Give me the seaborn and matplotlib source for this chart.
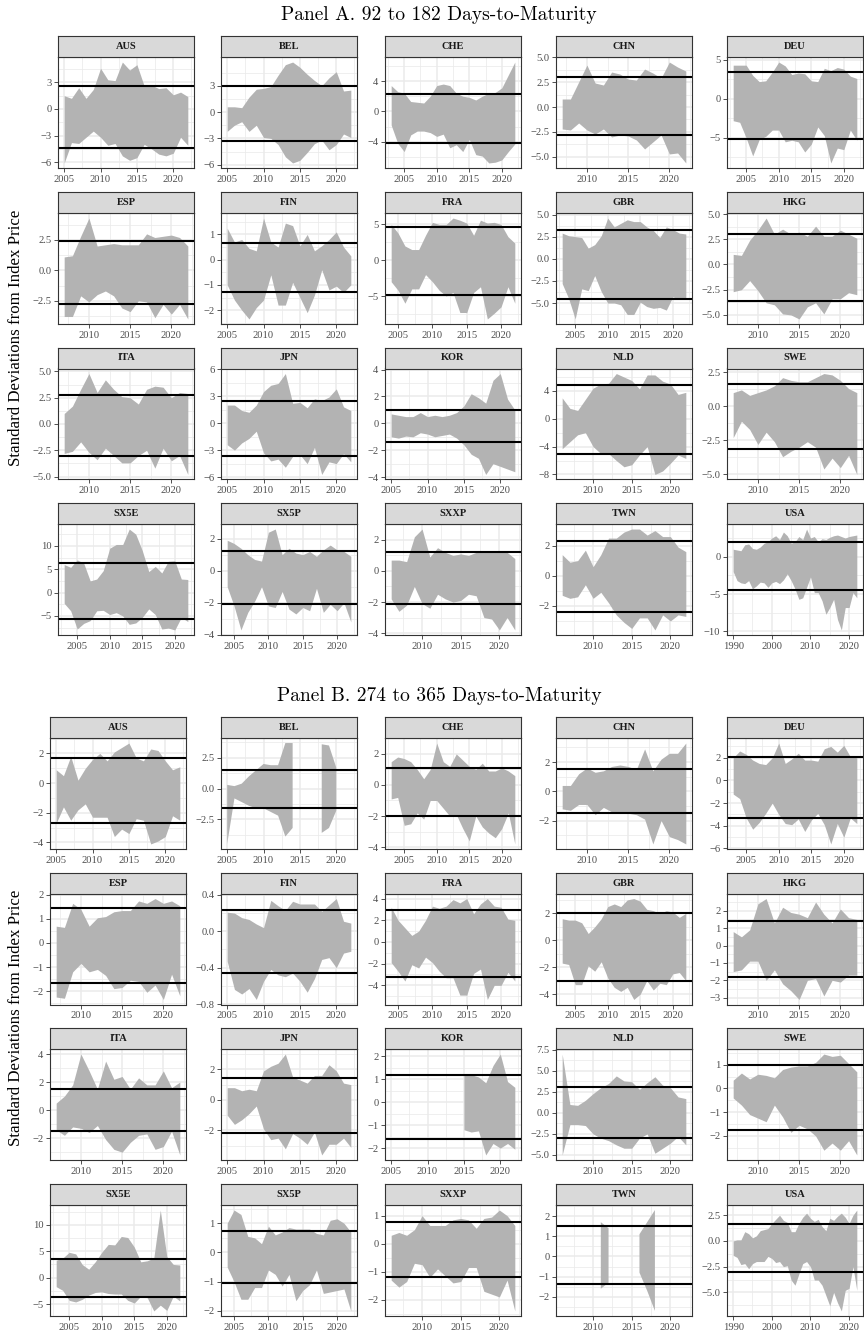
import numpy as np
import matplotlib
matplotlib.use("Agg")
import matplotlib.pyplot as plt
import seaborn as sns
from matplotlib.ticker import FixedLocator, FixedFormatter

nan = np.nan
COUNTRIES = ["AUS", "BEL", "CHE", "CHN", "DEU", "ESP", "FIN", "FRA", "GBR", "HKG",
             "ITA", "JPN", "KOR", "NLD", "SWE", "SX5E", "SX5P", "SXXP", "TWN", "USA"]
END_YEAR = 2022

# ---------------- Panel A: 92 to 182 days ----------------
A_START = {"AUS": 2005, "BEL": 2005, "CHE": 2003, "CHN": 2007, "DEU": 2003,
           "ESP": 2007, "FIN": 2005, "FRA": 2004, "GBR": 2003, "HKG": 2007,
           "ITA": 2007, "JPN": 2005, "KOR": 2005, "NLD": 2006, "SWE": 2007,
           "SX5E": 2003, "SX5P": 2004, "SXXP": 2006, "TWN": 2006, "USA": 1990}
A_HI = {
    "AUS": [1.5, 1.2, 2.4, 1.2, 2.2, 4.6, 3.3, 3.2, 5.3, 4.4, 5.0, 2.6, 2.7, 2.3, 2.4, 1.6, 1.9, 1.4],
    "BEL": [0.6, 0.6, 0.5, 1.7, 2.6, 2.7, 2.9, 4.2, 5.4, 5.7, 5.1, 4.3, 3.6, 3.0, 3.9, 4.6, 2.4, 2.5],
    "CHE": [3.4, 2.6, 2.4, 1.3, 1.2, 1.1, 2.0, 3.4, 3.6, 3.4, 2.4, 2.0, 1.85, 1.5, 2.0, 2.4, 2.5, 3.1, 4.8, 6.5],
    "CHN": [0.8, 0.8, 2.5, 4.2, 2.4, 2.2, 3.5, 3.3, 2.8, 2.7, 3.8, 3.4, 2.9, 4.5, 4.0, 3.6],
    "DEU": [4.3, 4.3, 4.3, 3.0, 2.2, 2.3, 3.4, 4.7, 4.2, 3.1, 3.3, 3.2, 2.3, 2.2, 3.9, 3.6, 4.0, 3.8, 2.9, 2.6],
    "ESP": [1.1, 1.2, 2.8, 4.3, 2.0, 2.1, 2.2, 2.1, 2.1, 2.1, 3.0, 2.7, 2.8, 2.9, 2.7, 2.0],
    "FIN": [1.25, 0.7, 0.8, 0.45, 0.35, 1.65, 0.7, 0.5, 1.45, 1.35, 0.55, 1.0, 0.35, 0.55, 0.8, 1.1, 0.5, 0.15],
    "FRA": [5.0, 3.8, 2.0, 1.5, 1.5, 3.5, 5.3, 5.0, 5.0, 5.9, 5.6, 5.2, 3.5, 5.6, 5.2, 5.3, 5.0, 3.3, 2.4],
    "GBR": [2.9, 2.6, 2.5, 2.4, 1.2, 1.6, 2.6, 4.6, 3.6, 4.0, 4.4, 4.2, 4.2, 3.6, 3.2, 2.4, 3.6, 3.3, 2.9, 2.8],
    "HKG": [1.0, 0.9, 2.4, 3.4, 4.6, 3.0, 3.5, 3.0, 3.2, 2.8, 3.8, 2.8, 2.8, 3.4, 3.0, 2.6],
    "ITA": [1.0, 1.7, 3.3, 4.8, 3.0, 4.2, 3.3, 2.6, 2.5, 1.9, 3.3, 3.6, 3.5, 2.5, 3.0, 2.9],
    "JPN": [2.0, 2.0, 1.4, 1.2, 2.0, 3.5, 4.2, 4.4, 5.5, 2.2, 2.3, 1.7, 2.7, 2.5, 2.9, 3.8, 1.8, 1.4],
    "KOR": [0.7, 0.6, 0.5, 0.5, 0.8, 0.5, 0.6, 0.5, 0.6, 0.8, 1.3, 2.2, 1.9, 1.5, 3.2, 3.7, 1.8, 1.0],
    "NLD": [3.0, 1.5, 1.2, 2.8, 4.4, 5.0, 5.1, 6.5, 6.0, 5.5, 4.3, 6.3, 6.3, 5.4, 5.0, 3.5, 3.8],
    "SWE": [1.0, 1.2, 0.8, 1.0, 1.2, 1.5, 2.1, 1.9, 1.8, 1.8, 2.1, 2.4, 2.3, 1.9, 1.3, 1.0],
    "SX5E": [6.0, 5.4, 7.0, 6.3, 2.5, 2.9, 4.7, 9.5, 10.3, 10.3, 13.6, 12.5, 9.0, 4.5, 5.6, 4.2, 6.7, 6.8, 2.9, 2.8],
    "SX5P": [1.9, 1.7, 1.4, 1.0, 0.7, 0.6, 2.4, 2.6, 1.0, 1.4, 1.1, 1.0, 1.2, 0.9, 1.3, 1.6, 1.3, 1.2, 0.9],
    "SXXP": [0.7, 0.7, 0.6, 2.2, 2.7, 0.9, 1.5, 1.2, 1.0, 1.1, 1.0, 1.2, 1.3, 1.3, 1.2, 1.2, 0.8],
    "TWN": [1.4, 0.9, 1.0, 1.7, 0.6, 1.4, 2.5, 2.5, 2.9, 3.1, 3.1, 2.7, 3.0, 2.6, 2.6, 1.9, 1.6],
    "USA": [1.0, 0.9, 0.8, 1.6, 1.7, 1.1, 1.0, 1.3, 1.8, 2.0, 2.5, 2.8, 2.3, 3.3, 2.8, 1.8, 2.0, 2.7, 2.3, 3.7,
            2.5, 2.7, 2.0, 2.4, 2.3, 2.6, 2.8, 2.9, 2.7, 2.5, 2.7, 2.8, 2.9],
}
A_LO = {
    "AUS": [-6.1, -3.8, -3.9, -3.2, -2.5, -3.2, -4.1, -3.9, -5.3, -5.8, -5.5, -4.0, -4.5, -5.1, -5.3, -5.0, -3.2, -4.1],
    "BEL": [-2.2, -1.5, -1.1, -2.2, -1.5, -2.9, -3.0, -3.7, -5.1, -5.8, -5.5, -4.6, -3.6, -3.2, -4.3, -3.7, -2.5, -2.9],
    "CHE": [-1.8, -4.2, -5.3, -3.1, -2.6, -2.6, -2.8, -3.3, -3.0, -4.8, -4.4, -5.3, -3.7, -5.7, -5.9, -6.8, -6.7, -6.4, -5.3, -4.3],
    "CHN": [-2.2, -2.3, -1.6, -2.3, -2.7, -2.2, -3.0, -2.8, -2.9, -3.3, -4.2, -3.5, -2.8, -4.7, -4.6, -5.6],
    "DEU": [-2.8, -3.0, -5.0, -7.3, -5.2, -4.8, -4.0, -4.0, -5.5, -5.3, -5.5, -6.8, -5.8, -3.6, -4.7, -8.2, -6.3, -6.5, -4.0, -5.3],
    "ESP": [-3.8, -3.8, -2.1, -2.6, -2.0, -1.7, -2.1, -3.1, -3.4, -2.5, -2.6, -3.9, -2.8, -3.6, -2.8, -4.0],
    "FIN": [-1.0, -1.6, -2.0, -2.35, -1.9, -1.6, -0.6, -1.8, -1.8, -0.9, -1.5, -2.1, -1.4, -0.4, -1.2, -1.05, -1.3, -1.0],
    "FRA": [-3.0, -4.2, -6.0, -4.0, -4.0, -2.0, -3.0, -4.2, -5.0, -4.5, -7.3, -7.3, -4.5, -3.7, -8.2, -7.4, -6.5, -3.7, -6.0],
    "GBR": [-2.8, -4.5, -6.8, -3.4, -3.6, -1.9, -3.7, -5.0, -5.0, -5.2, -6.3, -6.3, -4.9, -5.4, -5.6, -5.5, -5.8, -4.3, -4.6, -4.6],
    "HKG": [-2.7, -2.5, -1.6, -2.6, -3.8, -4.0, -4.9, -5.0, -5.4, -4.2, -3.8, -4.9, -3.4, -3.4, -2.8, -3.0],
    "ITA": [-2.8, -2.6, -1.7, -2.7, -3.4, -2.3, -3.0, -3.7, -3.7, -3.0, -2.5, -4.2, -2.3, -3.5, -3.0, -4.8],
    "JPN": [-2.4, -3.0, -2.2, -1.7, -0.9, -3.3, -4.2, -4.0, -4.9, -3.7, -3.5, -4.5, -2.7, -5.7, -4.3, -4.5, -3.4, -4.3],
    "KOR": [-1.0, -1.1, -0.95, -1.0, -0.7, -0.8, -1.0, -0.9, -0.8, -1.1, -1.6, -2.3, -2.6, -3.8, -3.0, -3.2, -3.4, -3.6],
    "NLD": [-4.3, -3.3, -2.3, -2.0, -4.0, -5.0, -5.0, -6.0, -6.9, -6.6, -5.2, -4.0, -8.0, -7.5, -6.4, -5.2, -5.7],
    "SWE": [-2.3, -1.1, -1.7, -2.8, -1.9, -2.6, -3.7, -3.3, -3.0, -2.6, -3.0, -4.6, -3.8, -4.5, -3.6, -5.0],
    "SX5E": [-2.3, -3.9, -7.8, -6.6, -6.0, -3.9, -3.8, -4.7, -4.3, -5.0, -6.8, -6.5, -5.3, -3.5, -4.7, -7.8, -7.6, -8.0, -5.3, -6.2],
    "SX5P": [-1.0, -2.2, -3.7, -2.6, -1.9, -1.0, -2.2, -2.3, -1.3, -2.4, -2.7, -2.3, -2.5, -1.1, -2.6, -2.1, -2.5, -2.0, -3.2],
    "SXXP": [-1.8, -2.6, -2.2, -1.0, -2.1, -2.4, -1.5, -1.8, -2.0, -1.9, -1.5, -1.6, -3.0, -3.1, -3.8, -3.0, -3.8],
    "TWN": [-1.3, -1.5, -1.4, -0.6, -1.5, -1.1, -1.8, -2.6, -3.1, -3.5, -2.8, -2.8, -3.6, -2.6, -3.0, -2.6, -2.7],
    "USA": [-2.0, -3.2, -3.5, -3.6, -3.2, -4.3, -3.9, -3.4, -3.5, -4.1, -3.5, -3.3, -3.6, -3.1, -2.3, -3.2, -4.3, -5.7,
            -5.5, -4.1, -2.7, -4.8, -4.8, -5.9, -7.7, -6.8, -5.7, -8.4, -9.8, -6.8, -6.8, -4.8, -5.5],
}
A_LINES = {"AUS": [2.6, -4.4], "BEL": [3.0, -3.3], "CHE": [2.3, -4.2], "CHN": [3.0, -2.8], "DEU": [3.4, -5.2],
           "ESP": [2.4, -2.8], "FIN": [0.65, -1.3], "FRA": [4.6, -4.9], "GBR": [3.2, -4.6], "HKG": [3.0, -3.6],
           "ITA": [2.8, -3.0], "JPN": [2.4, -3.7], "KOR": [1.0, -1.4], "NLD": [4.9, -5.1], "SWE": [1.6, -3.1],
           "SX5E": [6.3, -5.7], "SX5P": [1.2, -2.1], "SXXP": [1.2, -2.1], "TWN": [2.3, -2.4], "USA": [2.0, -4.4]}
A_YTICKS = {"AUS": [-6, -3, 0, 3], "BEL": [-6, -3, 0, 3], "CHE": [-4, 0, 4], "CHN": [-5.0, -2.5, 0.0, 2.5, 5.0],
            "DEU": [-5, 0, 5], "ESP": [-2.5, 0.0, 2.5], "FIN": [-2, -1, 0, 1], "FRA": [-5, 0, 5],
            "GBR": [-5.0, -2.5, 0.0, 2.5, 5.0], "HKG": [-5.0, -2.5, 0.0, 2.5, 5.0], "ITA": [-5.0, -2.5, 0.0, 2.5, 5.0],
            "JPN": [-6, -3, 0, 3, 6], "KOR": [-4, -2, 0, 2, 4], "NLD": [-8, -4, 0, 4], "SWE": [-5.0, -2.5, 0.0, 2.5],
            "SX5E": [-5, 0, 5, 10], "SX5P": [-4, -2, 0, 2], "SXXP": [-4, -2, 0, 2], "TWN": [-4, -2, 0, 2],
            "USA": [-10, -5, 0]}

# ---------------- Panel B: 274 to 365 days ----------------
B_START = {"AUS": 2005, "BEL": 2005, "CHE": 2003, "CHN": 2007, "DEU": 2003,
           "ESP": 2007, "FIN": 2005, "FRA": 2004, "GBR": 2003, "HKG": 2007,
           "ITA": 2007, "JPN": 2005, "KOR": 2005, "NLD": 2006, "SWE": 2007,
           "SX5E": 2003, "SX5P": 2004, "SXXP": 2006, "TWN": 2006, "USA": 1990}
B_HI = {
    "AUS": [0.9, 0.5, 1.8, 0.2, 1.0, 1.6, 2.0, 1.5, 2.1, 2.4, 2.7, 1.7, 1.5, 2.3, 2.2, 1.5, 0.9, 1.1],
    "BEL": [0.3, 0.2, 0.4, 1.0, 1.5, 2.0, 1.9, 1.9, 3.7, 3.7, nan, nan, nan, 3.6, 3.5, 1.7, nan, nan],
    "CHE": [1.5, 1.8, 1.7, 1.5, 1.0, 0.4, 1.0, 2.7, 1.5, 1.2, 2.0, 1.6, 1.2, 1.0, 1.4, 0.9, 0.9, 1.1, 0.9, 0.6],
    "CHN": [0.4, 0.4, 1.2, 1.6, 1.3, 1.4, 1.7, 1.8, 1.7, 1.5, 2.9, 1.4, 2.2, 2.6, 2.6, 3.3],
    "DEU": [2.0, 2.6, 2.3, 1.8, 1.5, 1.4, 2.0, 3.3, 1.5, 1.9, 2.4, 1.8, 1.8, 1.7, 2.8, 3.0, 2.5, 3.1, 2.1, 2.0],
    "ESP": [0.7, 0.65, 1.65, 1.4, 0.7, 1.05, 1.1, 1.3, 1.35, 1.35, 1.75, 1.65, 1.85, 1.65, 1.75, 1.55],
    "FIN": [0.21, 0.2, 0.15, 0.13, 0.08, 0.04, 0.34, 0.28, 0.23, 0.33, 0.3, 0.3, 0.3, 0.22, 0.29, 0.36, 0.11, 0.09],
    "FRA": [3.2, 2.0, 1.3, 0.6, 1.0, 2.0, 3.3, 3.1, 3.3, 3.9, 3.6, 4.0, 2.6, 3.5, 4.0, 3.3, 3.2, 2.1, 2.0],
    "GBR": [1.6, 1.5, 1.5, 1.3, 0.5, 1.0, 1.6, 2.5, 2.7, 2.5, 3.0, 3.1, 2.9, 2.3, 2.2, 2.0, 2.2, 2.1, 1.7, 2.0],
    "HKG": [0.8, 0.5, 0.9, 2.4, 2.7, 1.3, 2.2, 1.9, 1.8, 1.6, 2.5, 1.8, 1.3, 2.1, 1.6, 1.5],
    "ITA": [0.5, 1.0, 1.8, 4.0, 2.8, 1.5, 3.5, 2.2, 2.4, 1.5, 2.3, 1.8, 1.8, 2.8, 1.6, 2.0],
    "JPN": [0.8, 0.8, 0.6, 0.7, 0.6, 1.9, 2.2, 2.4, 3.0, 1.5, 1.3, 1.1, 1.6, 1.6, 2.3, 1.9, 1.1, 1.0],
    "KOR": [nan] * 10 + [1.25, 1.2, 1.1, 0.85, 1.6, 2.1, 0.9, 0.65],
    "NLD": [7.0, 1.0, 0.9, 1.5, 2.3, 3.0, 3.5, 4.4, 3.8, 3.7, 2.8, 3.6, 4.3, 3.3, 3.0, 1.9, 1.7],
    "SWE": [0.35, 0.65, 0.4, 0.6, 0.55, 0.45, 0.8, 0.9, 0.95, 0.95, 1.1, 1.45, 1.35, 1.4, 1.05, 0.7],
    "SX5E": [3.3, 3.7, 4.8, 4.5, 2.5, 1.6, 3.0, 4.8, 6.3, 6.2, 7.8, 7.6, 5.8, 3.0, 3.2, 3.7, 12.8, 4.0, 2.5, 2.4],
    "SX5P": [1.0, 1.45, 1.3, 0.55, 0.5, 0.3, 0.9, 0.6, 0.7, 0.85, 0.8, 0.8, 0.8, 0.65, 0.6, 1.1, 1.15, 1.0, 0.7],
    "SXXP": [0.3, 0.4, 0.3, 0.5, 1.0, 0.65, 0.65, 0.65, 0.85, 0.9, 0.85, 0.55, 0.9, 0.95, 1.2, 1.0, 0.65],
    "TWN": [nan, nan, nan, nan, nan, 1.7, 1.4, nan, nan, nan, 1.1, 1.7, 2.3, nan, nan, nan, nan],
    "USA": [0.0, 0.1, 0.1, 0.9, 0.7, 0.3, 0.5, 1.0, 1.1, 1.2, 1.7, 2.1, 2.5, 2.0, 1.8, 0.9, 0.9, 1.7, 2.3, 2.7,
            2.2, 1.9, 2.1, 1.4, 1.0, 2.2, 2.0, 2.4, 2.7, 2.3, 1.7, 2.5, 3.0],
}
B_LO = {
    "AUS": [-2.7, -1.6, -2.5, -1.8, -1.4, -2.3, -2.3, -2.3, -3.6, -3.1, -3.4, -2.4, -2.5, -4.1, -3.9, -3.6, -2.2, -2.5],
    "BEL": [-4.5, -0.8, -1.1, -1.4, -1.6, -1.6, -1.9, -2.2, -3.9, -3.2, nan, nan, nan, -3.6, -3.2, -1.8, nan, nan],
    "CHE": [-0.9, -0.8, -2.6, -2.5, -1.8, -2.2, -1.0, -1.0, -1.5, -2.0, -1.9, -2.8, -3.6, -2.0, -2.7, -3.1, -3.4, -2.8, -1.8, -3.8],
    "CHN": [-1.2, -1.3, -0.9, -0.9, -1.6, -1.1, -1.4, -1.4, -1.5, -1.6, -1.9, -3.6, -2.0, -3.1, -3.3, -3.6],
    "DEU": [-1.2, -1.6, -3.3, -4.3, -3.7, -2.9, -2.0, -3.0, -3.8, -3.9, -3.4, -4.5, -3.5, -2.9, -3.9, -5.6, -3.8, -5.0, -3.3, -3.8],
    "ESP": [-2.25, -2.3, -1.2, -0.85, -1.2, -1.1, -1.35, -1.9, -1.85, -1.55, -1.6, -2.05, -1.75, -2.35, -1.3, -2.2],
    "FIN": [-0.33, -0.64, -0.69, -0.63, -0.75, -0.55, -0.42, -0.48, -0.5, -0.46, -0.55, -0.67, -0.52, -0.31, -0.29, -0.4, -0.24, -0.22],
    "FRA": [-1.9, -2.7, -3.6, -2.1, -2.4, -1.4, -1.9, -2.7, -3.3, -3.3, -4.9, -4.9, -2.9, -2.5, -5.3, -4.0, -4.0, -2.8, -3.6],
    "GBR": [-1.7, -1.8, -3.3, -3.3, -1.9, -2.3, -1.6, -2.8, -3.5, -3.8, -3.5, -4.4, -4.0, -3.0, -3.7, -3.2, -3.3, -2.5, -2.4, -3.0],
    "HKG": [-1.5, -1.4, -0.9, -0.9, -2.0, -1.4, -2.2, -2.6, -3.1, -2.0, -1.9, -2.9, -2.0, -2.1, -1.7, -1.7],
    "ITA": [-1.4, -1.8, -1.2, -1.3, -1.6, -1.1, -2.1, -2.8, -3.0, -2.3, -1.8, -1.7, -2.8, -2.6, -1.5, -3.2],
    "JPN": [-1.0, -1.6, -1.3, -0.9, -0.4, -1.9, -2.6, -2.5, -3.2, -2.2, -2.5, -2.9, -2.1, -3.6, -2.9, -2.9, -2.5, -3.1],
    "KOR": [nan] * 10 + [-1.2, -1.3, -1.25, -2.3, -1.8, -2.0, -1.8, -2.05],
    "NLD": [-5.0, -1.4, -1.4, -1.5, -2.5, -3.0, -3.3, -3.8, -4.2, -4.2, -3.0, -2.5, -4.8, -4.2, -3.6, -2.8, -3.8],
    "SWE": [-0.4, -0.7, -1.1, -1.25, -1.4, -0.7, -1.2, -1.85, -1.55, -1.7, -2.0, -2.6, -2.3, -2.6, -2.2, -2.8],
    "SX5E": [-1.7, -2.4, -4.3, -4.6, -4.1, -3.3, -2.8, -2.7, -3.0, -3.1, -3.1, -4.3, -4.8, -3.5, -3.8, -6.3, -5.2, -6.2, -3.5, -4.4],
    "SX5P": [-0.5, -1.0, -1.6, -1.6, -1.2, -1.2, -0.6, -0.75, -1.15, -0.75, -1.65, -1.3, -1.1, -0.6, -1.4, -1.35, -1.3, -1.25, -2.0],
    "SXXP": [-1.3, -1.55, -1.35, -0.7, -0.75, -1.2, -0.9, -1.15, -1.4, -1.35, -0.85, -0.85, -1.7, -1.8, -1.9, -1.3, -2.4],
    "TWN": [nan, nan, nan, nan, nan, -1.6, -1.3, nan, nan, nan, -0.8, -1.7, -2.7, nan, nan, nan, nan],
    "USA": [-1.4, -1.6, -2.3, -2.2, -2.7, -2.2, -2.0, -2.0, -2.0, -1.5, -1.7, -2.1, -2.0, -2.5, -2.4, -3.8, -4.3, -3.2,
            -2.2, -2.0, -2.5, -3.8, -3.8, -4.3, -5.3, -6.3, -5.0, -6.0, -6.8, -4.8, -4.6, -2.5, -4.8],
}
B_LINES = {"AUS": [1.7, -2.7], "BEL": [1.5, -1.6], "CHE": [1.1, -2.0], "CHN": [1.5, -1.5], "DEU": [2.1, -3.3],
           "ESP": [1.45, -1.65], "FIN": [0.23, -0.46], "FRA": [2.9, -3.2], "GBR": [2.0, -3.0], "HKG": [1.4, -1.8],
           "ITA": [1.5, -1.5], "JPN": [1.45, -2.15], "KOR": [1.2, -1.6], "NLD": [3.1, -3.0], "SWE": [1.0, -1.75],
           "SX5E": [3.6, -3.7], "SX5P": [0.75, -1.05], "SXXP": [0.78, -1.18], "TWN": [1.5, -1.35], "USA": [1.6, -3.0]}
B_YTICKS = {"AUS": [-4, -2, 0, 2], "BEL": [-2.5, 0.0, 2.5], "CHE": [-4, -2, 0, 2], "CHN": [-2, 0, 2],
            "DEU": [-6, -4, -2, 0, 2], "ESP": [-2, -1, 0, 1, 2], "FIN": [-0.8, -0.4, 0.0, 0.4],
            "FRA": [-4, -2, 0, 2, 4], "GBR": [-4, -2, 0, 2], "HKG": [-3, -2, -1, 0, 1, 2, 3],
            "ITA": [-2, 0, 2, 4], "JPN": [-2, 0, 2], "KOR": [-2, -1, 0, 1, 2], "NLD": [-5.0, -2.5, 0.0, 2.5, 5.0, 7.5],
            "SWE": [-2, -1, 0, 1], "SX5E": [-5, 0, 5, 10], "SX5P": [-2, -1, 0, 1], "SXXP": [-2, -1, 0, 1],
            "TWN": [-2, -1, 0, 1, 2], "USA": [-5.0, -2.5, 0.0, 2.5]}

PANEL_TITLES = ["Panel A. 92 to 182 Days-to-Maturity", "Panel B. 274 to 365 Days-to-Maturity"]
Y_LABEL = "Standard Deviations from Index Price"
X_TICKS_DEFAULT = [2005, 2010, 2015, 2020]
X_TICKS_USA = [1990, 2000, 2010, 2020]

# ---------------- style ----------------
sns.set_theme(style="whitegrid")
plt.rcParams["font.family"] = ["Liberation Serif", "DejaVu Serif"]
plt.rcParams["axes.unicode_minus"] = True

W, H = 864, 1334
fig = plt.figure(figsize=(W / 100, H / 100), dpi=100)
fig.patch.set_facecolor("white")


def rect(x, y, w, h):
    return [x / W, 1 - (y + h) / H, w / W, h / H]


def fmt(vals):
    dec = 0
    for v in vals:
        if abs(v - round(v)) > 1e-9:
            s = ("%.3f" % abs(v)).rstrip("0")
            dec = max(dec, len(s.split(".")[1]))
    out = []
    for v in vals:
        s = ("%." + str(dec) + "f") % v
        if s.startswith("-"):
            s = "\u2212" + s[1:]
        if s in ("\u22120", "\u22120.0"):
            s = s[1:]
        out.append(s)
    return out


def minors(majors, lo, hi):
    step = majors[1] - majors[0] if len(majors) > 1 else 1
    m = np.arange(majors[0] - step / 2, majors[-1] + step, step)
    return [v for v in m if lo <= v <= hi]


GRAY20 = "#333333"
PANEL_W = 136
STRIP_H = 21
PLOT_H = 111
LEFTS = [[58, 221, 385, 556, 727], [50, 221, 385, 556, 727]]
TOPS = [[36, 192, 347.5, 503], [717, 872.5, 1028, 1184]]
TITLE_Y = [15, 696]
YLABEL_Y = [338, 1018]

panels = [(A_START, A_HI, A_LO, A_LINES, A_YTICKS), (B_START, B_HI, B_LO, B_LINES, B_YTICKS)]

for p, (START, HI, LO, LINES, YT) in enumerate(panels):
    fig.text(439 / W, 1 - TITLE_Y[p] / H, PANEL_TITLES[p], family="cmr10", fontsize=14,
             ha="center", va="center", color="black")
    fig.text(16 / W, 1 - YLABEL_Y[p] / H, Y_LABEL,
             fontsize=12.2, rotation=90, ha="center", va="center", color="black")
    for i, c in enumerate(COUNTRIES):
        r, col = divmod(i, 5)
        left = LEFTS[p][col]
        top = TOPS[p][r]
        years = np.arange(START[c], END_YEAR + 1)
        hi = np.array(HI[c], dtype=float)
        lo = np.array(LO[c], dtype=float)
        lines = LINES[c]

        ax = fig.add_axes(rect(left, top + STRIP_H, PANEL_W, PLOT_H))
        ax.set_facecolor("white")
        ax.fill_between(years, lo, hi, color="#B3B3B3", linewidth=0, zorder=2)
        for v in lines:
            ax.axhline(v, color="black", linewidth=1.5, zorder=3)

        x0, x1 = years[0], years[-1]
        xp = 0.05 * (x1 - x0)
        ax.set_xlim(x0 - xp, x1 + xp)
        allv = np.concatenate([lo[np.isfinite(lo)], hi[np.isfinite(hi)], np.array(lines)])
        y0, y1 = allv.min(), allv.max()
        yp = 0.05 * (y1 - y0)
        ax.set_ylim(y0 - yp, y1 + yp)

        xcand = X_TICKS_USA if c == "USA" else X_TICKS_DEFAULT
        xt = [t for t in xcand if x0 - xp <= t <= x1 + xp]
        xstep = xcand[1] - xcand[0]
        xfull = list(np.arange(xcand[0] - 2 * xstep, xcand[-1] + 3 * xstep, xstep))
        yt = [t for t in YT[c] if y0 - yp <= t <= y1 + yp]
        ystep = YT[c][1] - YT[c][0]
        yfull = list(np.arange(YT[c][0] - 3 * ystep, YT[c][-1] + 4 * ystep, ystep))

        ax.xaxis.set_major_locator(FixedLocator(xt))
        ax.xaxis.set_major_formatter(FixedFormatter([str(t) for t in xt]))
        ax.yaxis.set_major_locator(FixedLocator(yt))
        ax.yaxis.set_major_formatter(FixedFormatter(fmt(yt)))
        ax.xaxis.set_minor_locator(FixedLocator(minors(xfull, x0 - xp, x1 + xp)))
        ax.yaxis.set_minor_locator(FixedLocator(minors(yfull, y0 - yp, y1 + yp)))

        ax.grid(True, which="major", color="#EBEBEB", linewidth=1.1, zorder=0)
        ax.grid(True, which="minor", color="#EBEBEB", linewidth=0.55, zorder=0)
        ax.set_axisbelow(True)
        ax.tick_params(which="major", axis="both", direction="out", length=3.2, width=0.6,
                       color=GRAY20, labelsize=7.6, labelcolor="#4D4D4D", pad=1.5,
                       bottom=True, left=True)
        ax.tick_params(which="minor", length=0)
        for s in ax.spines.values():
            s.set_color(GRAY20)
            s.set_linewidth(0.8)
            s.set_zorder(5)

        sax = fig.add_axes(rect(left, top, PANEL_W, STRIP_H))
        sax.set_facecolor("#D9D9D9")
        sax.set_xticks([])
        sax.set_yticks([])
        sax.grid(False)
        for s in sax.spines.values():
            s.set_color(GRAY20)
            s.set_linewidth(0.8)
        sax.text(0.5, 0.5, c, transform=sax.transAxes, ha="center", va="center",
                 fontsize=7.5, fontweight="bold", color="#1A1A1A")

fig.savefig("out.png", dpi=100, facecolor="white")
